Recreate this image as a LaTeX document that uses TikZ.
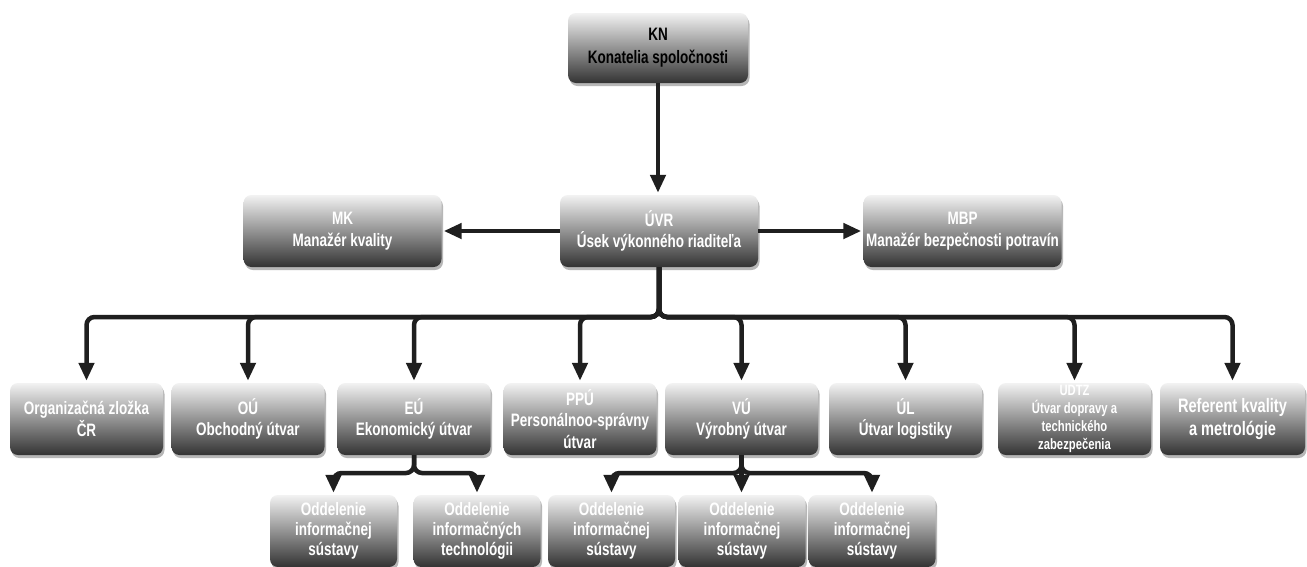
\documentclass[tikz,border=0pt]{standalone}
\usepackage{fontspec}
\setmainfont[FakeStretch=0.75]{Liberation Sans}
\usetikzlibrary{arrows.meta,shadows}
\begin{document}
\begin{tikzpicture}[x=1pt,y=-1pt,
  box/.style={rounded corners=8pt, top color=white!95!black, bottom color=black!80,
    draw=none, text=white, align=center, inner sep=1pt,
    font=\bfseries\fontsize{18}{21.5}\selectfont,
    drop shadow={shadow xshift=1.5pt, shadow yshift=-3pt, opacity=0.4, fill=black!70}},
  topbox/.style={box, minimum width=198pt, minimum height=72pt},
  midbox/.style={box, minimum width=153pt, minimum height=72pt},
  lowbox/.style={box, minimum width=127pt, minimum height=72pt, font=\bfseries\fontsize{18}{20}\selectfont},
  conn/.style={line width=4.5pt, draw=black!88, rounded corners=8pt,
    -{Triangle[width=15pt,length=18pt]}, shorten >=2pt}
]
\useasboundingbox (0,0) rectangle (1307,566);
\clip (0,0) rectangle (1307,566);
\fill[white] (0,0) rectangle (1307,566);

% top level
\node[box, minimum width=180pt, minimum height=70pt, text=black,
  font=\bfseries\fontsize{18}{23}\selectfont] (kn) at (658,48) {KN\\Konatelia spoločnosti};
\node[topbox] (mk) at (342.5,231) {MK\\Manažér kvality};
\node[topbox] (uvr) at (659,231) {ÚVR\\Úsek výkonného riaditeľa};
\node[topbox] (mbp) at (962.5,231) {MBP\\Manažér bezpečnosti potravín};

% second level
\node[midbox] (b1) at (86.5,419) {Organizačná zložka\\ČR};
\node[midbox] (b2) at (248,419) {OÚ\\Obchodný útvar};
\node[midbox] (b3) at (414,419) {EÚ\\Ekonomický útvar};
\node[midbox] (b4) at (580,419) {PPÚ\\Personálnoo-správny\\útvar};
\node[midbox] (b5) at (741.5,419) {VÚ\\Výrobný útvar};
\node[midbox] (b6) at (905.5,419) {ÚL\\Útvar logistiky};
\node[midbox, font=\bfseries\fontsize{15}{18}\selectfont] (b7) at (1074.5,419) {UDTZ\\Útvar dopravy a\\technického\\zabezpečenia};
\node[midbox, minimum width=145pt, font=\bfseries\fontsize{19.5}{23}\selectfont] (b8) at (1232.5,419) {Referent kvality\\a metrológie};

% third level
\node[lowbox] (c1) at (333.5,531) {Oddelenie\\informačnej\\sústavy};
\node[lowbox] (c2) at (477,531) {Oddelenie\\informačných\\technológii};
\node[lowbox] (c3) at (611.5,531) {Oddelenie\\informačnej\\sústavy};
\node[lowbox] (c4) at (742,531) {Oddelenie\\informačnej\\sústavy};
\node[lowbox] (c5) at (872,531) {Oddelenie\\informačnej\\sústavy};

% connectors
\coordinate (busU) at (659,317);
\coordinate (busE) at (414,473);
\coordinate (busV) at (741.5,473);

\draw[conn] (kn.south) -- (kn.south |- uvr.north);
\draw[conn] (uvr.west) -- (mk.east);
\draw[conn] (uvr.east) -- (mbp.west);

\foreach \b in {b1,b2,b3,b4,b5,b6,b7,b8}
  \draw[conn] (uvr.south) -- (busU) -| (\b.north);

\foreach \c in {c1,c2}
  \draw[conn] (b3.south) -- (busE) -| (\c.north);

\foreach \c in {c3,c5}
  \draw[conn] (b5.south) -- (busV) -| (\c.north);
\draw[conn] (b5.south) -- (b5.south |- c4.north);
\end{tikzpicture}
\end{document}
